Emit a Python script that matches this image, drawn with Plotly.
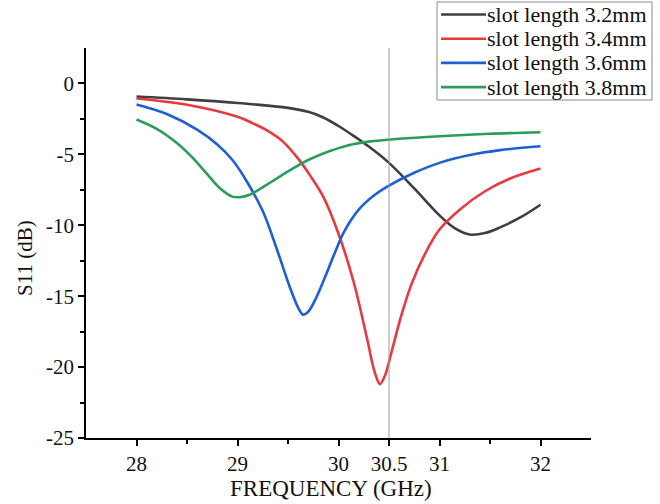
import plotly.graph_objects as go

# ---- data ----
freq_32 = [28.0, 28.5, 29.0, 29.5, 29.7, 29.85, 30.0, 30.15, 30.3, 30.5, 30.75, 31.0, 31.15, 31.3, 31.45, 31.6, 31.8, 32.0]
s11_32 = [-0.92, -1.12, -1.38, -1.72, -2.0, -2.4, -3.0, -3.7, -4.45, -5.6, -7.4, -9.3, -10.2, -10.65, -10.55, -10.15, -9.45, -8.55]

freq_34 = [28.0, 28.5, 29.0, 29.15, 29.3, 29.45, 29.6, 29.72, 29.85, 30.0, 30.15, 30.28, 30.36, 30.41, 30.46, 30.53,
           30.62, 30.72, 30.85, 31.0, 31.2, 31.45, 31.7, 32.0]
s11_34 = [-1.06, -1.5, -2.35, -2.8, -3.35, -4.1, -5.3, -6.5, -8.0, -10.6, -14.0, -17.9, -20.4, -21.2, -20.6, -18.8,
          -16.4, -14.2, -12.1, -10.3, -8.9, -7.6, -6.7, -6.0]

freq_36 = [28.0, 28.3, 28.6, 28.8, 28.95, 29.1, 29.25, 29.4, 29.52, 29.6, 29.65, 29.7, 29.78, 29.87,
           29.96, 30.06, 30.2, 30.35, 30.5, 30.75, 31.0, 31.3, 31.6, 32.0]
s11_36 = [-1.48, -2.15, -3.25, -4.3, -5.4, -7.0, -9.0, -11.9, -14.4, -15.8, -16.3, -16.1, -15.1, -13.6,
          -12.0, -10.4, -8.9, -7.9, -7.2, -6.3, -5.6, -5.05, -4.7, -4.43]

freq_38 = [28.0, 28.2, 28.4, 28.55, 28.7, 28.82, 28.95, 29.02, 29.12, 29.3, 29.5, 29.7, 29.9, 30.1,
           30.3, 30.6, 31.0, 31.5, 32.0]
s11_38 = [-2.54, -3.2, -4.2, -5.2, -6.4, -7.35, -7.98, -8.02, -7.85, -7.1, -6.2, -5.4, -4.8, -4.35,
          -4.1, -3.9, -3.72, -3.55, -3.44]

series_names = ["slot length 3.2mm", "slot length 3.4mm", "slot length 3.6mm", "slot length 3.8mm"]
series_colors = ["#3F3F3F", "#E8393F", "#1E5FD2", "#2A9D5C"]

x_tickvals = [28, 29, 30, 30.5, 31, 32]
x_ticktext = ["28", "29", "30", "30.5", "31", "32"]
y_tickvals = [-25, -20, -15, -10, -5, 0]
y_ticktext = ["-25", "-20", "-15", "-10", "-5", "0"]
marker_freq = 30.5
x_title = "FREQUENCY (GHz)"
y_title = "S11 (dB)"

FONT = "Liberation Serif, Times New Roman, serif"

# plot-area geometry in pixels
W, H = 660, 504
ML, MR, MT, MB = 86, 69, 48, 66
PW, PH = W - ML - MR, H - MT - MB


def px_x(p):
    return (p - ML) / PW


def px_y(p):
    return (H - MB - p) / PH


fig = go.Figure()
for xs, ys, name, col in zip([freq_32, freq_34, freq_36, freq_38],
                             [s11_32, s11_34, s11_36, s11_38],
                             series_names, series_colors):
    fig.add_trace(go.Scatter(x=xs, y=ys, mode="lines", name=name, showlegend=False,
                             line=dict(color=col, width=2.6, shape="spline", smoothing=1.0)))

fig.add_shape(type="line", x0=marker_freq, x1=marker_freq, y0=0, y1=1, xref="x", yref="paper",
              line=dict(color="#9A9A9A", width=1))

# manual legend box (pixel-positioned, like the reference)
fig.add_shape(type="rect", xref="paper", yref="paper",
              x0=px_x(437), x1=px_x(652), y0=px_y(100), y1=px_y(2),
              line=dict(color="#8A8A8A", width=1), fillcolor="white", layer="above")
for i, (name, col) in enumerate(zip(series_names, series_colors)):
    yc = 14.5 + 24.2 * i
    fig.add_shape(type="line", xref="paper", yref="paper",
                  x0=px_x(441), x1=px_x(486), y0=px_y(yc), y1=px_y(yc),
                  line=dict(color=col, width=2.6), layer="above")
    fig.add_annotation(xref="paper", yref="paper", x=px_x(485), y=px_y(yc),
                       xanchor="left", yanchor="middle", showarrow=False, text=name,
                       font=dict(family=FONT, size=22, color="#111111"))

# axis titles placed as in the reference
fig.add_annotation(xref="paper", yref="paper", x=px_x(331), y=px_y(488),
                   xanchor="center", yanchor="middle", showarrow=False, text=x_title,
                   font=dict(family=FONT, size=23, color="#111111"))
fig.add_annotation(xref="paper", yref="paper", x=px_x(25), y=px_y(258),
                   xanchor="center", yanchor="middle", showarrow=False, text=y_title, textangle=-90,
                   font=dict(family=FONT, size=21, color="#111111"))

fig.update_layout(
    width=W, height=H,
    margin=dict(l=ML, r=MR, t=MT, b=MB, autoexpand=False),
    paper_bgcolor="white", plot_bgcolor="white",
    font=dict(family=FONT, size=21, color="#111111"),
    showlegend=False,
)
fig.update_xaxes(range=[27.5, 32.5], tickvals=x_tickvals, ticktext=x_ticktext,
                 showline=True, linecolor="black", linewidth=1.5, showgrid=False, zeroline=False,
                 ticks="outside", ticklen=6, tickwidth=1.5, tickcolor="black",
                 minor=dict(tickvals=[28.5, 29.5, 31.5], ticks="outside", ticklen=4, tickwidth=1.5, tickcolor="black"),
                 tickfont=dict(family=FONT, size=21))
fig.update_yaxes(range=[-25, 2.5], tickvals=y_tickvals, ticktext=y_ticktext,
                 showline=True, linecolor="black", linewidth=1.5, showgrid=False, zeroline=False,
                 ticks="outside", ticklen=6, tickwidth=1.5, tickcolor="black",
                 minor=dict(tickvals=[-22.5, -17.5, -12.5, -7.5, -2.5], ticks="outside", ticklen=4,
                            tickwidth=1.5, tickcolor="black"),
                 tickfont=dict(family=FONT, size=21))

fig.write_html("out.html")
